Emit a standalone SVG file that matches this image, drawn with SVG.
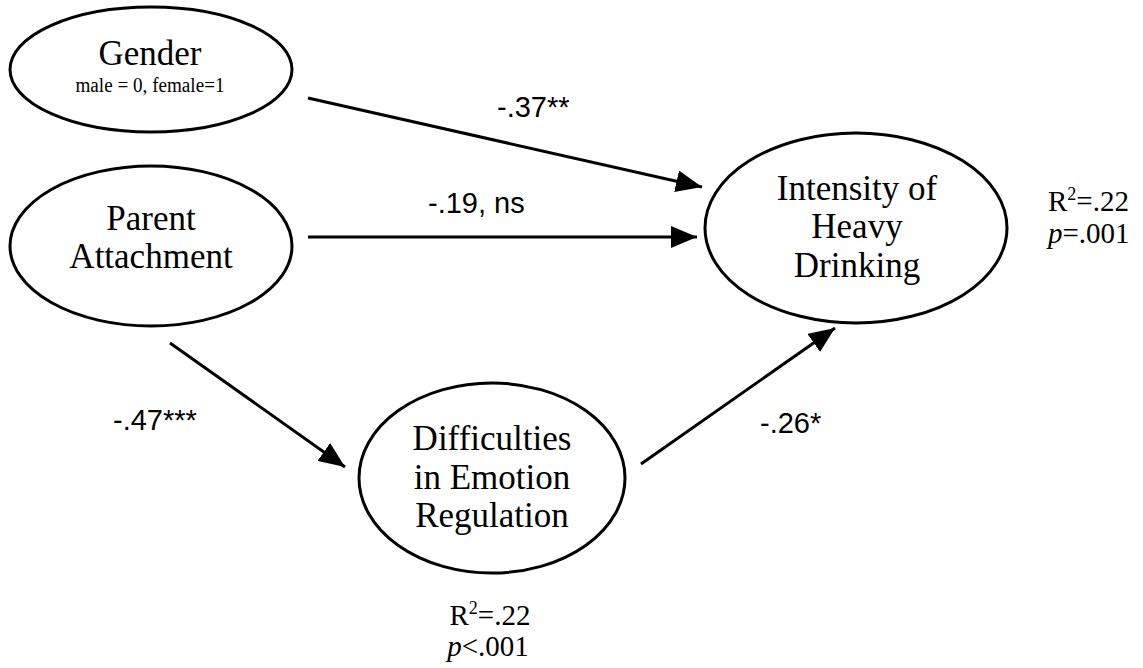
<svg xmlns="http://www.w3.org/2000/svg" width="1143" height="668" viewBox="0 0 1143 668">
<style>
.node ellipse{fill:#fff;stroke:#000;stroke-width:3}
.t{font-family:"Liberation Serif","Times New Roman",serif;font-size:35px;fill:#000;text-anchor:middle}
.sub{font-family:"Liberation Serif","Times New Roman",serif;font-size:20px;fill:#000;text-anchor:middle}
.stat{font-family:"Liberation Serif","Times New Roman",serif;font-size:29px;fill:#000}
.lbl{font-family:"Liberation Sans",Arial,sans-serif;font-size:29px;fill:#000}
.conn line{stroke:#000;stroke-width:3;marker-end:url(#ah)}
</style>
<defs>
<marker id="ah" markerUnits="userSpaceOnUse" markerWidth="26" markerHeight="22" refX="26" refY="11" orient="auto" viewBox="0 0 26 22">
<path d="M0,0 L26,11 L0,22 Z" fill="#000"/>
</marker>
</defs>
<rect width="1143" height="668" fill="#fff"/>
<g id="connectors" class="conn">
<line x1="308" y1="98" x2="702" y2="187"/>
<line x1="308" y1="237" x2="697" y2="237"/>
<line x1="170" y1="343" x2="345" y2="467"/>
<line x1="641" y1="464" x2="835" y2="328"/>
</g>
<g id="labels">
<text class="lbl" x="497" y="117">-.37**</text>
<text class="lbl" x="428" y="213">-.19, ns</text>
<text class="lbl" x="113" y="430">-.47***</text>
<text class="lbl" x="760" y="433">-.26*</text>
</g>
<g id="gender" class="node">
<ellipse cx="151" cy="69.5" rx="141" ry="62.5"/>
<text class="t" x="150" y="65">Gender</text>
<text class="sub" x="150" y="92" textLength="149" lengthAdjust="spacingAndGlyphs">male = 0, female=1</text>
</g>
<g id="parent" class="node">
<ellipse cx="151" cy="246" rx="141" ry="80"/>
<text class="t" x="151" y="230">Parent</text>
<text class="t" x="151" y="268">Attachment</text>
</g>
<g id="intensity" class="node">
<ellipse cx="856" cy="228" rx="151" ry="95"/>
<text class="t" x="857" y="200">Intensity of</text>
<text class="t" x="857" y="238">Heavy</text>
<text class="t" x="857" y="277">Drinking</text>
</g>
<g id="difficulties" class="node">
<ellipse cx="492" cy="478" rx="133" ry="95"/>
<text class="t" x="492" y="450">Difficulties</text>
<text class="t" x="492" y="489">in Emotion</text>
<text class="t" x="492" y="527">Regulation</text>
</g>
<g id="stats-intensity">
<text class="stat" x="1048" y="211">R<tspan font-size="18" dy="-11">2</tspan><tspan dy="11">=.22</tspan></text>
<text class="stat" x="1048" y="243"><tspan font-style="italic">p</tspan>=.001</text>
</g>
<g id="stats-difficulties">
<text class="stat" x="490" y="625" text-anchor="middle" font-size="28">R<tspan font-size="18" dy="-11">2</tspan><tspan dy="11">=.22</tspan></text>
<text class="stat" x="488" y="656" text-anchor="middle" font-size="28"><tspan font-style="italic">p</tspan>&lt;.001</text>
</g>
</svg>
